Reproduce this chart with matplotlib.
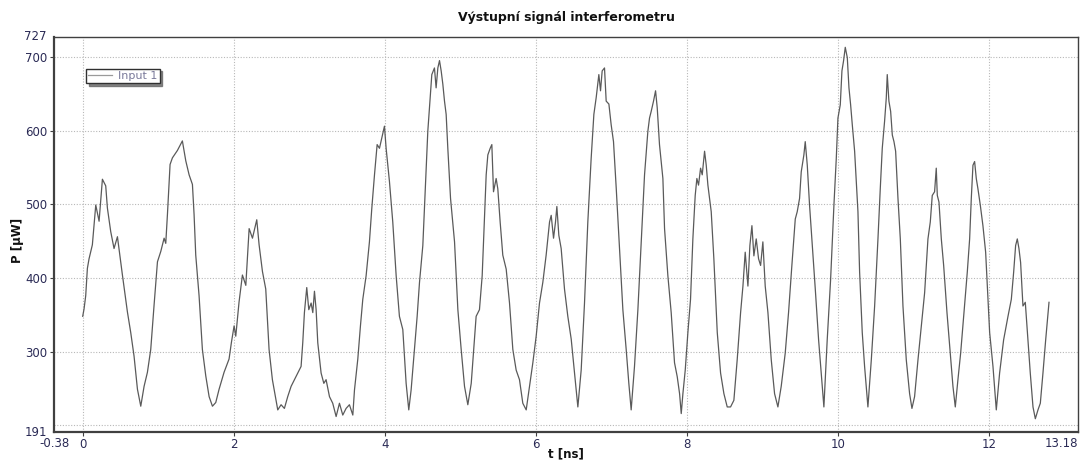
import matplotlib
matplotlib.use("Agg")
import matplotlib.pyplot as plt

# ---- data ----
t_ns = [
    0.000, 0.018, 0.040, 0.062, 0.084, 0.128, 0.173, 0.217, 0.261, 0.305,
    0.327, 0.371, 0.415, 0.460, 0.480, 0.526, 0.592, 0.636, 0.680, 0.725,
    0.769, 0.813, 0.857, 0.901, 0.945, 0.990, 1.034, 1.078, 1.100, 1.122,
    1.157, 1.188, 1.254, 1.320, 1.365, 1.409, 1.453, 1.475, 1.497, 1.541,
    1.585, 1.630, 1.674, 1.718, 1.762, 1.806, 1.872, 1.938, 1.970, 2.005,
    2.027, 2.070, 2.115, 2.160, 2.204, 2.248, 2.305, 2.336, 2.380, 2.424,
    2.468, 2.512,
    2.583, 2.627, 2.671, 2.715, 2.760, 2.804, 2.848, 2.892, 2.914, 2.936,
    2.967, 2.994, 3.025, 3.047, 3.069, 3.091, 3.113, 3.157, 3.193, 3.223,
    3.268, 3.311, 3.356, 3.400, 3.444, 3.488, 3.532, 3.577, 3.599, 3.643,
    3.678, 3.709, 3.753, 3.797, 3.828, 3.864, 3.899, 3.930, 3.961, 3.996,
    4.018, 4.062, 4.106, 4.151, 4.194, 4.239, 4.283, 4.318, 4.349, 4.393,
    4.429, 4.460, 4.504, 4.535, 4.570, 4.592, 4.623, 4.658, 4.680, 4.703,
    4.725, 4.747, 4.769, 4.791, 4.813, 4.835, 4.871, 4.924, 4.968, 5.012,
    5.056, 5.100, 5.145,
    5.210, 5.254, 5.290, 5.321, 5.343, 5.365, 5.396, 5.418, 5.440, 5.475,
    5.497, 5.528, 5.563, 5.608, 5.652, 5.696, 5.740, 5.784, 5.828, 5.873,
    5.917, 5.961, 6.005, 6.049, 6.093, 6.137, 6.182, 6.204, 6.235, 6.261,
    6.279, 6.305, 6.336, 6.380, 6.424, 6.469, 6.513, 6.557, 6.601, 6.645,
    6.689, 6.733, 6.769, 6.800, 6.835, 6.857, 6.879, 6.910, 6.932, 6.968,
    6.998, 7.029, 7.065, 7.109, 7.153, 7.197, 7.232, 7.263, 7.307, 7.352,
    7.396, 7.440, 7.484, 7.506, 7.528, 7.559, 7.586, 7.608, 7.638, 7.683,
    7.705, 7.749, 7.793, 7.837, 7.873, 7.904, 7.926, 7.948, 7.979, 8.014,
    8.049, 8.080, 8.111, 8.133, 8.155, 8.182, 8.204, 8.235, 8.257, 8.279,
    8.323, 8.358, 8.403, 8.447, 8.491, 8.535, 8.579, 8.623, 8.667, 8.712,
    8.743, 8.773, 8.809, 8.835, 8.862, 8.888, 8.919, 8.950, 8.977, 9.007,
    9.038, 9.074, 9.118, 9.162, 9.206, 9.250, 9.303, 9.347, 9.391, 9.436,
    9.462, 9.493, 9.515, 9.550, 9.568, 9.595, 9.625, 9.656, 9.701, 9.745,
    9.780, 9.815, 9.859, 9.904, 9.948, 9.979, 10.001, 10.032, 10.054, 10.076,
    10.098, 10.125, 10.147, 10.169, 10.191, 10.222, 10.266,
    10.288, 10.323, 10.354, 10.398, 10.443, 10.487, 10.531, 10.562, 10.588, 10.619,
    10.641, 10.654, 10.676, 10.699, 10.721, 10.743, 10.765, 10.796, 10.827, 10.862,
    10.906, 10.950, 10.981, 11.016, 11.061, 11.105, 11.149, 11.193, 11.224, 11.250,
    11.281, 11.303, 11.317, 11.339, 11.370, 11.401, 11.445, 11.489, 11.524, 11.555,
    11.590, 11.626, 11.670, 11.714, 11.745, 11.767, 11.789, 11.811, 11.833, 11.855,
    11.886, 11.921, 11.957, 11.983, 12.010, 12.054, 12.098, 12.142, 12.195, 12.253,
    12.297, 12.328, 12.354, 12.376, 12.398, 12.420, 12.451, 12.482, 12.517, 12.548,
    12.584, 12.615, 12.650, 12.681, 12.716, 12.752, 12.796,
]

p_uw = [
    348, 358, 376, 413, 426, 445, 499, 477, 534, 525,
    495, 463, 440, 456, 440, 404, 354, 326, 294, 249,
    226, 253, 272, 303, 363, 422, 436, 454, 447, 486,
    554, 563, 573, 586, 559, 540, 527, 486, 431, 376,
    303, 267, 239, 226, 231, 249, 272, 290, 313, 335,
    321, 367, 404, 390, 467, 454, 479, 445, 409, 385,
    303, 262,
    221, 228, 223, 239, 253, 262, 271, 280, 312, 353,
    387, 357, 366, 353, 382, 357, 312, 271, 257, 262,
    239, 230, 212, 230, 214, 223, 228, 214, 248, 290,
    335, 371, 403, 449, 494, 540, 581, 576, 590, 606,
    576, 531, 476, 403, 348, 330, 257, 221, 248, 303,
    348, 394, 444, 517, 599, 631, 676, 685, 658, 685,
    695, 681, 663, 640, 622, 576, 508, 449, 357, 303,
    253, 228, 257,
    348, 357, 403, 485, 540, 567, 576, 581, 517, 535,
    521, 476, 431, 412, 366, 303, 275, 262, 230, 221,
    253, 285, 321, 366, 394, 431, 476, 485, 454, 476,
    497, 458, 440, 385, 348, 317, 271, 225, 275, 366,
    476, 562, 622, 645, 676, 654, 681, 685, 640, 636,
    608, 585, 522, 440, 357, 303, 257, 221, 280, 357,
    449, 540, 599, 617, 626, 640, 654, 631, 581, 535,
    467, 403, 353, 285, 266, 243, 216, 243, 275, 326,
    371, 453, 512, 535, 526, 549, 540, 572, 553, 526,
    490, 426, 326, 271, 243, 225, 225, 234, 289, 353,
    389, 435, 389, 444, 471, 430, 453, 426, 417, 449,
    389, 353, 289, 243, 225, 253, 298, 353, 417, 480,
    490, 508, 544, 567, 585, 553, 499, 453, 385, 316,
    271, 225, 316, 398, 499, 562, 617, 635, 681, 695,
    713, 699, 658, 635, 608, 572, 490,
    408, 326, 280, 225, 289, 362, 453, 522, 576, 613,
    644, 676, 640, 626, 594, 585, 572, 508, 453, 362,
    289, 243, 223, 239, 289, 335, 380, 453, 476, 512,
    517, 549, 512, 503, 453, 417, 353, 298, 253, 225,
    262, 298, 353, 408, 453, 508, 553, 558, 535, 521,
    499, 471, 435, 380, 326, 280, 221, 271, 316, 348,
    371, 408, 444, 453, 440, 421, 362, 367, 316, 271,
    225, 209, 221, 230, 271, 316, 367,
]

series_name = "Input 1"
title = "Výstupní signál interferometru"
x_label = "t [ns]"
y_label = "P [μW]"
x_range = (-0.38, 13.18)
y_range = (191, 727)
x_ticks = [0, 2, 4, 6, 8, 10, 12]
y_ticks = [300, 400, 500, 600, 700]
y_grid = [200, 300, 400, 500, 600, 700]

# ---- drawing ----
plt.rcParams['font.family'] = ['DejaVu Sans']
W, H = 1091, 462
fig = plt.figure(figsize=(W / 100, H / 100), dpi=100)
ax = fig.add_axes([54 / W, 1 - 432 / H, (1078 - 54) / W, (432 - 37) / H])

tick_color = '#2a2a55'
ax.plot(t_ns, p_uw, color='#5a5a5a', lw=0.9, label=series_name)

ax.set_xlim(*x_range)
ax.set_ylim(*y_range)

for x in x_ticks:
    ax.axvline(x, color='#b8b8b8', lw=0.8, ls=(0, (1, 1.5)), zorder=0)
for y in y_grid:
    ax.axhline(y, color='#b8b8b8', lw=0.8, ls=(0, (1, 1.5)), zorder=0)

ax.set_xticks(x_ticks)
ax.set_xticklabels([str(v) for v in x_ticks])
ax.set_yticks(y_ticks)
ax.set_yticklabels([str(v) for v in y_ticks])
ax.tick_params(axis='both', colors='#404040', labelcolor=tick_color,
               labelsize=8.5, length=3, width=0.8, direction='out', pad=1.5)

# range end labels
ax.text(x_range[0], -0.012, f"{x_range[0]:g}", transform=ax.get_xaxis_transform(),
        ha='center', va='top', fontsize=8.5, color=tick_color)
ax.text(x_range[1], -0.012, f"{x_range[1]:g}", transform=ax.get_xaxis_transform(),
        ha='right', va='top', fontsize=8.5, color=tick_color)
ax.text(-0.007, y_range[0], f"{y_range[0]:g}", transform=ax.get_yaxis_transform(),
        ha='right', va='center', fontsize=8.5, color=tick_color)
ax.text(-0.007, y_range[1], f"{y_range[1]:g}", transform=ax.get_yaxis_transform(),
        ha='right', va='center', fontsize=8.5, color=tick_color)

for side in ['left', 'bottom']:
    ax.spines[side].set_linewidth(1.6)
    ax.spines[side].set_color('#404040')
for side in ['top', 'right']:
    ax.spines[side].set_linewidth(1.0)
    ax.spines[side].set_color('#404040')

fig.text(566 / W, 1 - 18 / H, title, fontsize=9, fontweight='bold',
         color='#111111', ha='center', va='center')
fig.text(566 / W, 1 - 454 / H, x_label, fontsize=8.5, fontweight='bold',
         color='#111111', ha='center', va='center')
fig.text(18 / W, 1 - 240 / H, y_label, fontsize=8.5, fontweight='bold',
         color='#111111', ha='center', va='center', rotation=90)

leg = ax.legend(loc='upper left', bbox_to_anchor=(0.031, 0.92), fontsize=8,
                frameon=True, fancybox=False, shadow={'color': '#666666', 'alpha': 0.8},
                handlelength=2.2, borderpad=0.2, handletextpad=0.5, borderaxespad=0)
leg.get_frame().set_edgecolor('#303030')
leg.get_frame().set_linewidth(1.0)
for txt in leg.get_texts():
    txt.set_color('#7a7a9a')
for ln in leg.get_lines():
    ln.set_color('#9a9a9a')

fig.savefig('out.png', dpi=100, facecolor='white')
